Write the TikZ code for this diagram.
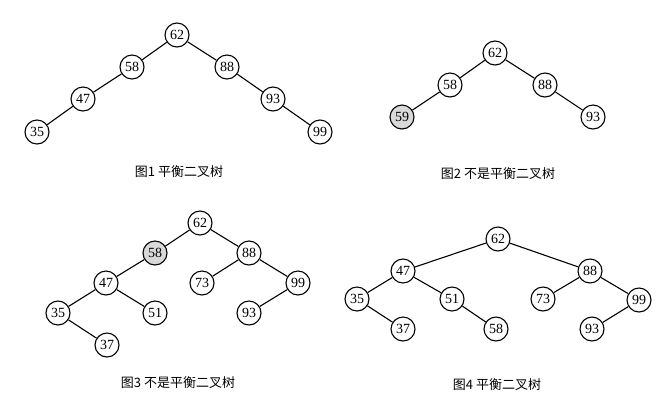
\documentclass[tikz,border=0pt]{standalone}
\usepackage{fontspec}
\setmainfont{Liberation Serif}
\newfontfamily\cjk{Noto Sans CJK SC}
\begin{document}
\begin{tikzpicture}[x=1bp,y=-1bp,
  nd/.style={circle,draw,line width=1.1bp,minimum size=24bp,inner sep=0pt,fill=white,font=\fontsize{14bp}{14bp}\selectfont},
  hl/.style={nd,fill=black!15},
  ed/.style={line width=1.1bp},
  captxt/.style={font=\cjk\fontsize{13bp}{13bp}\selectfont,inner sep=0pt}]
\useasboundingbox (0,0) rectangle (661,406);
% Figure 1
\node[nd] (a62) at (177,35) {62};
\node[nd] (a58) at (132,67) {58};
\node[nd] (a88) at (227,67) {88};
\node[nd] (a47) at (83,99) {47};
\node[nd] (a93) at (273,99) {93};
\node[nd] (a35) at (37,132) {35};
\node[nd] (a99) at (320,132) {99};
\draw[ed] (a62)--(a58) (a62)--(a88) (a58)--(a47) (a47)--(a35) (a88)--(a93) (a93)--(a99);
\node[captxt] (c1) at (179,172) {图1 平衡二叉树};
% Figure 2
\node[nd] (b62) at (495,53) {62};
\node[nd] (b58) at (450,85) {58};
\node[nd] (b88) at (545,85) {88};
\node[hl] (b59) at (402,117) {59};
\node[nd] (b93) at (593,117) {93};
\draw[ed] (b62)--(b58) (b62)--(b88) (b58)--(b59) (b88)--(b93);
\node[captxt] (c2) at (498,174) {图2 不是平衡二叉树};
% Figure 3
\node[nd] (d62) at (200,223) {62};
\node[hl] (d58) at (155,253) {58};
\node[nd] (d88) at (249,253) {88};
\node[nd] (d47) at (106,283) {47};
\node[nd] (d73) at (202,283) {73};
\node[nd] (d99) at (298,283) {99};
\node[nd] (d35) at (58,313) {35};
\node[nd] (d51) at (155,313) {51};
\node[nd] (d93) at (249,313) {93};
\node[nd] (d37) at (107,345) {37};
\draw[ed] (d62)--(d58) (d62)--(d88) (d58)--(d47) (d47)--(d35) (d47)--(d51) (d35)--(d37)
  (d88)--(d73) (d88)--(d99) (d99)--(d93);
\node[captxt] (c3) at (178,383) {图3 不是平衡二叉树};
% Figure 4
\node[nd] (e62) at (498,239) {62};
\node[nd] (e47) at (403,271) {47};
\node[nd] (e88) at (590,271) {88};
\node[nd] (e35) at (357,299) {35};
\node[nd] (e51) at (452,299) {51};
\node[nd] (e73) at (543,299) {73};
\node[nd] (e99) at (639,300) {99};
\node[nd] (e37) at (403,329) {37};
\node[nd] (e58) at (496,329) {58};
\node[nd] (e93) at (592,329) {93};
\draw[ed] (e62)--(e47) (e62)--(e88) (e47)--(e35) (e47)--(e51) (e35)--(e37) (e51)--(e58)
  (e88)--(e73) (e88)--(e99) (e99)--(e93);
\node[captxt] (c4) at (497,385) {图4 平衡二叉树};
\end{tikzpicture}
\end{document}
